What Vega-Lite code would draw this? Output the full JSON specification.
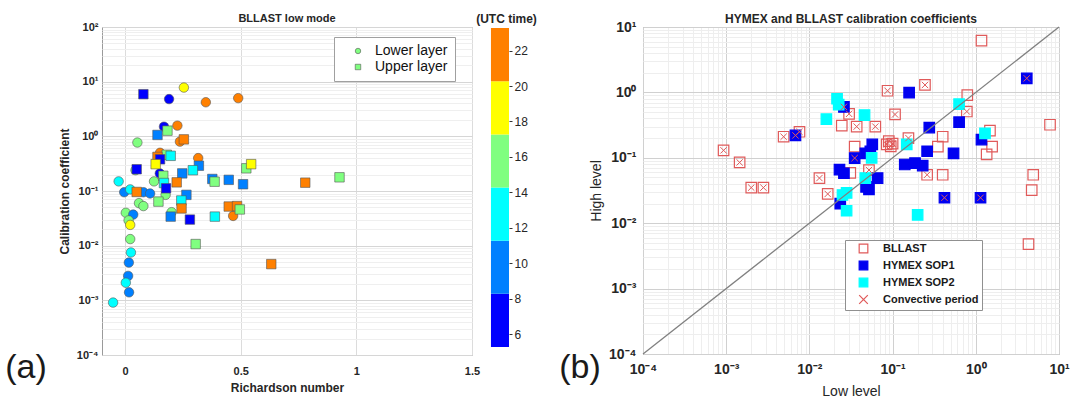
{
  "$schema": "https://vega.github.io/schema/vega-lite/v6.json",
  "background": "white",
  "padding": {"left": 4, "top": 11, "right": 5, "bottom": 3},
  "spacing": 21,
  "resolve": {
    "scale": {"shape": "independent", "color": "independent", "fill": "independent", "stroke": "independent", "x": "independent", "y": "independent"},
    "legend": {"shape": "independent", "color": "independent", "fill": "independent", "stroke": "independent"}
  },
  "config": {
    "font": "Liberation Sans",
    "view": {"stroke": "#9a9a9a"},
    "axis": {"domain": false, "ticks": false, "labelOverlap": false, "labelFlush": false, "labelColor": "#262626", "titleColor": "#262626", "labelFont": "Liberation Sans", "titleFont": "Liberation Sans"},
    "title": {"fontWeight": "bold", "color": "#262626", "font": "Liberation Sans", "frame": "group"}
  },
  "datasets": {
    "ri": [
      {"ri": 0.19, "cc": 4.8, "lay": "Lower layer", "utc": 7},
      {"ri": 0.254, "cc": 7.8, "lay": "Lower layer", "utc": 19},
      {"ri": 0.349, "cc": 4.2, "lay": "Lower layer", "utc": 22},
      {"ri": 0.489, "cc": 5.0, "lay": "Lower layer", "utc": 22},
      {"ri": 0.168, "cc": 1.5, "lay": "Lower layer", "utc": 7},
      {"ri": 0.226, "cc": 1.57, "lay": "Lower layer", "utc": 22},
      {"ri": 0.053, "cc": 0.77, "lay": "Lower layer", "utc": 16},
      {"ri": 0.237, "cc": 0.8, "lay": "Lower layer", "utc": 22},
      {"ri": 0.151, "cc": 0.5, "lay": "Lower layer", "utc": 22},
      {"ri": 0.316, "cc": 0.4, "lay": "Lower layer", "utc": 22},
      {"ri": 0.15, "cc": 0.21, "lay": "Lower layer", "utc": 7},
      {"ri": 0.125, "cc": 0.15, "lay": "Lower layer", "utc": 16},
      {"ri": 0.045, "cc": 0.24, "lay": "Lower layer", "utc": 16},
      {"ri": -0.028, "cc": 0.15, "lay": "Lower layer", "utc": 13},
      {"ri": -0.004, "cc": 0.095, "lay": "Lower layer", "utc": 10},
      {"ri": 0.022, "cc": 0.107, "lay": "Lower layer", "utc": 13},
      {"ri": 0.079, "cc": 0.095, "lay": "Lower layer", "utc": 10},
      {"ri": 0.108, "cc": 0.09, "lay": "Lower layer", "utc": 10},
      {"ri": 0.06, "cc": 0.06, "lay": "Lower layer", "utc": 16},
      {"ri": 0.079, "cc": 0.053, "lay": "Lower layer", "utc": 16},
      {"ri": 0.175, "cc": 0.085, "lay": "Lower layer", "utc": 16},
      {"ri": 0.201, "cc": 0.041, "lay": "Lower layer", "utc": 16},
      {"ri": 0.467, "cc": 0.035, "lay": "Lower layer", "utc": 22},
      {"ri": 0.003, "cc": 0.04, "lay": "Lower layer", "utc": 16},
      {"ri": 0.035, "cc": 0.037, "lay": "Lower layer", "utc": 10},
      {"ri": 0.015, "cc": 0.029, "lay": "Lower layer", "utc": 16},
      {"ri": 0.022, "cc": 0.024, "lay": "Lower layer", "utc": 19},
      {"ri": 0.022, "cc": 0.0132, "lay": "Lower layer", "utc": 16},
      {"ri": 0.025, "cc": 0.0075, "lay": "Lower layer", "utc": 13},
      {"ri": 0.016, "cc": 0.0049, "lay": "Lower layer", "utc": 10},
      {"ri": 0.013, "cc": 0.0028, "lay": "Lower layer", "utc": 10},
      {"ri": 0.003, "cc": 0.0021, "lay": "Lower layer", "utc": 13},
      {"ri": 0.017, "cc": 0.0014, "lay": "Lower layer", "utc": 10},
      {"ri": -0.052, "cc": 0.00091, "lay": "Lower layer", "utc": 13},
      {"ri": 0.079, "cc": 5.9, "lay": "Upper layer", "utc": 7},
      {"ri": 0.14, "cc": 1.06, "lay": "Upper layer", "utc": 10},
      {"ri": 0.183, "cc": 1.27, "lay": "Upper layer", "utc": 16},
      {"ri": 0.254, "cc": 0.88, "lay": "Upper layer", "utc": 22},
      {"ri": 0.18, "cc": 0.46, "lay": "Upper layer", "utc": 16},
      {"ri": 0.197, "cc": 0.44, "lay": "Upper layer", "utc": 13},
      {"ri": 0.14, "cc": 0.42, "lay": "Upper layer", "utc": 22},
      {"ri": 0.151, "cc": 0.38, "lay": "Upper layer", "utc": 7},
      {"ri": 0.132, "cc": 0.31, "lay": "Upper layer", "utc": 19},
      {"ri": 0.05, "cc": 0.25, "lay": "Upper layer", "utc": 7},
      {"ri": 0.319, "cc": 0.29, "lay": "Upper layer", "utc": 10},
      {"ri": 0.293, "cc": 0.24, "lay": "Upper layer", "utc": 13},
      {"ri": 0.247, "cc": 0.21, "lay": "Upper layer", "utc": 10},
      {"ri": 0.165, "cc": 0.19, "lay": "Upper layer", "utc": 16},
      {"ri": 0.168, "cc": 0.14, "lay": "Upper layer", "utc": 13},
      {"ri": 0.524, "cc": 0.26, "lay": "Upper layer", "utc": 16},
      {"ri": 0.545, "cc": 0.31, "lay": "Upper layer", "utc": 19},
      {"ri": 0.377, "cc": 0.166, "lay": "Upper layer", "utc": 10},
      {"ri": 0.448, "cc": 0.16, "lay": "Upper layer", "utc": 10},
      {"ri": 0.51, "cc": 0.133, "lay": "Upper layer", "utc": 10},
      {"ri": 0.387, "cc": 0.148, "lay": "Upper layer", "utc": 16},
      {"ri": 0.223, "cc": 0.144, "lay": "Upper layer", "utc": 22},
      {"ri": 0.779, "cc": 0.142, "lay": "Upper layer", "utc": 22},
      {"ri": 0.927, "cc": 0.178, "lay": "Upper layer", "utc": 16},
      {"ri": 0.05, "cc": 0.096, "lay": "Upper layer", "utc": 22},
      {"ri": 0.177, "cc": 0.112, "lay": "Upper layer", "utc": 7},
      {"ri": 0.265, "cc": 0.085, "lay": "Upper layer", "utc": 10},
      {"ri": 0.144, "cc": 0.064, "lay": "Upper layer", "utc": 16},
      {"ri": 0.243, "cc": 0.067, "lay": "Upper layer", "utc": 13},
      {"ri": 0.244, "cc": 0.048, "lay": "Upper layer", "utc": 22},
      {"ri": 0.197, "cc": 0.034, "lay": "Upper layer", "utc": 10},
      {"ri": 0.28, "cc": 0.03, "lay": "Upper layer", "utc": 7},
      {"ri": 0.388, "cc": 0.034, "lay": "Upper layer", "utc": 13},
      {"ri": 0.448, "cc": 0.052, "lay": "Upper layer", "utc": 22},
      {"ri": 0.484, "cc": 0.053, "lay": "Upper layer", "utc": 22},
      {"ri": 0.496, "cc": 0.046, "lay": "Upper layer", "utc": 16},
      {"ri": 0.305, "cc": 0.0107, "lay": "Upper layer", "utc": 16},
      {"ri": 0.632, "cc": 0.0046, "lay": "Upper layer", "utc": 22}
    ],
    "cbar": [
      {"utc": 5.27, "utc_end": 8.27},
      {"utc": 8.27, "utc_end": 11.27},
      {"utc": 11.27, "utc_end": 14.27},
      {"utc": 14.27, "utc_end": 17.27},
      {"utc": 17.27, "utc_end": 20.27},
      {"utc": 20.27, "utc_end": 23.27}
    ],
    "coef": [
      {"lo": 1.17, "hi": 6.2, "grp": "BLLAST"},
      {"lo": 0.79, "hi": 0.91, "grp": "BLLAST"},
      {"lo": 1.48, "hi": 0.26, "grp": "BLLAST"},
      {"lo": 7.8, "hi": 0.32, "grp": "BLLAST"},
      {"lo": 0.4, "hi": 0.21, "grp": "BLLAST"},
      {"lo": 0.35, "hi": 0.148, "grp": "BLLAST"},
      {"lo": 1.57, "hi": 0.148, "grp": "BLLAST"},
      {"lo": 1.35, "hi": 0.113, "grp": "BLLAST"},
      {"lo": 0.4, "hi": 0.055, "grp": "BLLAST"},
      {"lo": 4.9, "hi": 0.055, "grp": "BLLAST"},
      {"lo": 4.7, "hi": 0.032, "grp": "BLLAST"},
      {"lo": 4.3, "hi": 0.0048, "grp": "BLLAST"},
      {"lo": 0.0245, "hi": 0.31, "grp": "BLLAST"},
      {"lo": 0.035, "hi": 0.148, "grp": "BLLAST"},
      {"lo": 0.031, "hi": 0.059, "grp": "BLLAST"},
      {"lo": 0.00093, "hi": 0.13, "grp": "BLLAST"},
      {"lo": 0.00145, "hi": 0.085, "grp": "BLLAST"},
      {"lo": 0.002, "hi": 0.035, "grp": "BLLAST"},
      {"lo": 0.0028, "hi": 0.035, "grp": "BLLAST"},
      {"lo": 0.0049, "hi": 0.21, "grp": "BLLAST"},
      {"lo": 0.0076, "hi": 0.25, "grp": "BLLAST"},
      {"lo": 0.0132, "hi": 0.049, "grp": "BLLAST"},
      {"lo": 0.0166, "hi": 0.028, "grp": "BLLAST"},
      {"lo": 0.03, "hi": 0.47, "grp": "BLLAST"},
      {"lo": 0.037, "hi": 0.3, "grp": "BLLAST"},
      {"lo": 0.062, "hi": 0.3, "grp": "BLLAST"},
      {"lo": 0.087, "hi": 1.06, "grp": "BLLAST"},
      {"lo": 0.107, "hi": 0.46, "grp": "BLLAST"},
      {"lo": 0.245, "hi": 1.3, "grp": "BLLAST"},
      {"lo": 0.155, "hi": 0.2, "grp": "BLLAST"},
      {"lo": 0.09, "hi": 0.18, "grp": "BLLAST"},
      {"lo": 0.095, "hi": 0.15, "grp": "BLLAST"},
      {"lo": 0.1, "hi": 0.165, "grp": "BLLAST"},
      {"lo": 0.085, "hi": 0.16, "grp": "BLLAST"},
      {"lo": 0.052, "hi": 0.065, "grp": "BLLAST"},
      {"lo": 0.26, "hi": 0.055, "grp": "BLLAST"},
      {"lo": 0.78, "hi": 0.51, "grp": "BLLAST"},
      {"lo": 0.0068, "hi": 0.22, "grp": "HYMEX SOP1"},
      {"lo": 0.026, "hi": 0.6, "grp": "HYMEX SOP1"},
      {"lo": 0.035, "hi": 0.099, "grp": "HYMEX SOP1"},
      {"lo": 0.42, "hi": 0.0245, "grp": "HYMEX SOP1"},
      {"lo": 1.14, "hi": 0.0245, "grp": "HYMEX SOP1"},
      {"lo": 4.1, "hi": 1.64, "grp": "HYMEX SOP1"},
      {"lo": 0.158, "hi": 0.99, "grp": "HYMEX SOP1"},
      {"lo": 0.276, "hi": 0.29, "grp": "HYMEX SOP1"},
      {"lo": 0.63, "hi": 0.35, "grp": "HYMEX SOP1"},
      {"lo": 0.26, "hi": 0.126, "grp": "HYMEX SOP1"},
      {"lo": 0.54, "hi": 0.117, "grp": "HYMEX SOP1"},
      {"lo": 0.23, "hi": 0.076, "grp": "HYMEX SOP1"},
      {"lo": 1.17, "hi": 0.19, "grp": "HYMEX SOP1"},
      {"lo": 0.14, "hi": 0.079, "grp": "HYMEX SOP1"},
      {"lo": 0.186, "hi": 0.083, "grp": "HYMEX SOP1"},
      {"lo": 0.057, "hi": 0.16, "grp": "HYMEX SOP1"},
      {"lo": 0.054, "hi": 0.125, "grp": "HYMEX SOP1"},
      {"lo": 0.047, "hi": 0.117, "grp": "HYMEX SOP1"},
      {"lo": 0.023, "hi": 0.066, "grp": "HYMEX SOP1"},
      {"lo": 0.026, "hi": 0.058, "grp": "HYMEX SOP1"},
      {"lo": 0.066, "hi": 0.049, "grp": "HYMEX SOP1"},
      {"lo": 0.048, "hi": 0.036, "grp": "HYMEX SOP1"},
      {"lo": 0.052, "hi": 0.033, "grp": "HYMEX SOP1"},
      {"lo": 0.0235, "hi": 0.0199, "grp": "HYMEX SOP1"},
      {"lo": 0.0215, "hi": 0.8, "grp": "HYMEX SOP2"},
      {"lo": 0.0225, "hi": 0.65, "grp": "HYMEX SOP2"},
      {"lo": 0.016, "hi": 0.39, "grp": "HYMEX SOP2"},
      {"lo": 0.046, "hi": 0.45, "grp": "HYMEX SOP2"},
      {"lo": 0.63, "hi": 0.66, "grp": "HYMEX SOP2"},
      {"lo": 1.29, "hi": 0.237, "grp": "HYMEX SOP2"},
      {"lo": 0.148, "hi": 0.16, "grp": "HYMEX SOP2"},
      {"lo": 0.056, "hi": 0.1, "grp": "HYMEX SOP2"},
      {"lo": 0.047, "hi": 0.049, "grp": "HYMEX SOP2"},
      {"lo": 0.028, "hi": 0.029, "grp": "HYMEX SOP2"},
      {"lo": 0.025, "hi": 0.027, "grp": "HYMEX SOP2"},
      {"lo": 0.028, "hi": 0.0155, "grp": "HYMEX SOP2"},
      {"lo": 0.2, "hi": 0.0134, "grp": "HYMEX SOP2"}
    ],
    "conv": [
      {"lo": 0.00093, "hi": 0.13, "grp": "Convective period"},
      {"lo": 0.00145, "hi": 0.085, "grp": "Convective period"},
      {"lo": 0.002, "hi": 0.035, "grp": "Convective period"},
      {"lo": 0.0028, "hi": 0.035, "grp": "Convective period"},
      {"lo": 0.0049, "hi": 0.21, "grp": "Convective period"},
      {"lo": 0.0076, "hi": 0.25, "grp": "Convective period"},
      {"lo": 0.0132, "hi": 0.049, "grp": "Convective period"},
      {"lo": 0.0166, "hi": 0.028, "grp": "Convective period"},
      {"lo": 0.03, "hi": 0.47, "grp": "Convective period"},
      {"lo": 0.037, "hi": 0.3, "grp": "Convective period"},
      {"lo": 0.062, "hi": 0.3, "grp": "Convective period"},
      {"lo": 0.087, "hi": 1.06, "grp": "Convective period"},
      {"lo": 0.107, "hi": 0.46, "grp": "Convective period"},
      {"lo": 0.245, "hi": 1.3, "grp": "Convective period"},
      {"lo": 0.155, "hi": 0.2, "grp": "Convective period"},
      {"lo": 0.09, "hi": 0.18, "grp": "Convective period"},
      {"lo": 0.095, "hi": 0.15, "grp": "Convective period"},
      {"lo": 0.1, "hi": 0.165, "grp": "Convective period"},
      {"lo": 0.085, "hi": 0.16, "grp": "Convective period"},
      {"lo": 0.052, "hi": 0.065, "grp": "Convective period"},
      {"lo": 0.26, "hi": 0.055, "grp": "Convective period"},
      {"lo": 0.78, "hi": 0.51, "grp": "Convective period"},
      {"lo": 0.0068, "hi": 0.22, "grp": "Convective period"},
      {"lo": 0.026, "hi": 0.6, "grp": "Convective period"},
      {"lo": 0.035, "hi": 0.099, "grp": "Convective period"},
      {"lo": 0.42, "hi": 0.0245, "grp": "Convective period"},
      {"lo": 1.14, "hi": 0.0245, "grp": "Convective period"},
      {"lo": 4.1, "hi": 1.64, "grp": "Convective period"}
    ],
    "diag": [
      {"lo": 0.0001, "hi": 0.0001},
      {"lo": 10, "hi": 10}
    ]
  },
  "hconcat": [
    {
      "width": 370,
      "height": 328,
      "title": {"text": "BLLAST low mode", "fontSize": 11, "offset": -12},
      "layer": [
        {
          "data": {"name": "ri"},
          "mark": {"type": "point", "filled": true, "opacity": 1, "size": 90, "stroke": "#555555", "strokeWidth": 0.6},
          "encoding": {
            "x": {
              "field": "ri", "type": "quantitative",
              "scale": {"domain": [-0.1, 1.5], "nice": false, "zero": false},
              "axis": {"title": "Richardson number", "values": [0, 0.5, 1, 1.5], "labelExpr": "format(datum.value, '~g')", "labelFontSize": 11, "labelFontWeight": "bold", "labelPadding": 10, "titleFontSize": 12, "titleFontWeight": "bold", "titlePadding": 6, "gridColor": "#dcdcdc"}
            },
            "y": {
              "field": "cc", "type": "quantitative",
              "scale": {"type": "log", "domain": [0.0001, 100], "nice": false},
              "axis": {
                "title": "Calibration coefficient",
                "values": [0.0001,0.0002,0.0003,0.0004,0.0005,0.0006,0.0007,0.0008,0.0009,0.001,0.002,0.003,0.004,0.005,0.006,0.007,0.008,0.009,0.01,0.02,0.03,0.04,0.05,0.06,0.07,0.08,0.09,0.1,0.2,0.3,0.4,0.5,0.6,0.7,0.8,0.9,1,2,3,4,5,6,7,8,9,10,20,30,40,50,60,70,80,90,100],
                "labelExpr": "abs(log(datum.value)/LN10 - round(log(datum.value)/LN10)) < 0.001 ? ['10⁻⁴','10⁻³','10⁻²','10⁻¹','10⁰','10¹','10²'][round(log(datum.value)/LN10)+4] : ''",
                "gridColor": {"condition": {"test": "abs(log(datum.value)/LN10 - round(log(datum.value)/LN10)) < 0.001", "value": "#d6d6d6"}, "value": "#efefef"},
                "labelFontSize": 11, "labelFontWeight": "bold", "labelPadding": 4,
                "titleFontSize": 12, "titleFontWeight": "bold", "titlePadding": 5
              }
            },
            "shape": {
              "field": "lay", "type": "nominal",
              "scale": {"domain": ["Lower layer", "Upper layer"], "range": ["circle", "square"]},
              "legend": {"orient": "none", "legendX": 232, "legendY": 10, "title": null, "labelFontSize": 14, "labelColor": "#111111", "symbolSize": 30, "symbolFillColor": "#80ff80", "symbolStrokeColor": "#555555", "symbolStrokeWidth": 0.6, "strokeColor": "#a0a0a0", "fillColor": "white", "padding": 7, "rowPadding": 2, "labelOffset": 10, "symbolOffset": 10}
            },
            "color": {
              "field": "utc", "type": "quantitative",
              "scale": {"type": "threshold", "domain": [8.27, 11.27, 14.27, 17.27, 20.27], "range": ["#0000ff", "#0080ff", "#00ffff", "#80ff80", "#ffff00", "#ff8000"]},
              "legend": null
            }
          }
        },
        {
          "layer": [
            {
              "data": {"name": "cbar"},
              "mark": {"type": "rect", "clip": false},
              "encoding": {
                "x": {"datum": 1.582, "type": "quantitative", "scale": {"domain": [-0.1, 1.5], "nice": false, "zero": false}},
                "x2": {"datum": 1.66},
                "y": {
                  "field": "utc", "type": "quantitative",
                  "scale": {"domain": [4.82, 23.33], "nice": false, "zero": false},
                  "axis": {"orient": "right", "offset": 37, "values": [6, 8, 10, 12, 14, 16, 18, 20, 22], "grid": false, "domain": false, "ticks": true, "tickSize": 3, "tickColor": "#333333", "labelFontSize": 12, "labelPadding": 2, "title": "(UTC time)", "titleAngle": 0, "titleX": -3, "titleY": -5, "titleAlign": "center", "titleBaseline": "alphabetic", "titleFontSize": 12, "titleFontWeight": "bold"}
                },
                "y2": {"field": "utc_end"},
                "color": {
                  "field": "utc", "type": "quantitative",
                  "scale": {"type": "threshold", "domain": [8.27, 11.27, 14.27, 17.27, 20.27], "range": ["#0000ff", "#0080ff", "#00ffff", "#80ff80", "#ffff00", "#ff8000"]},
                  "legend": null
                }
              }
            },
            {
              "data": {"values": [{"panel": "(a)"}]},
              "mark": {"type": "text", "clip": false, "fontSize": 34, "color": "#1a1a1a", "font": "Liberation Sans"},
              "encoding": {
                "x": {"datum": -0.4287, "type": "quantitative", "scale": {"domain": [-0.1, 1.5], "nice": false, "zero": false}},
                "y": {"datum": 4.09, "type": "quantitative", "scale": {"domain": [4.82, 23.33], "nice": false, "zero": false}},
                "text": {"field": "panel"}
              }
            }
          ]
        }
      ],
      "resolve": {"scale": {"y": "independent"}, "axis": {"y": "independent"}}
    },
    {
      "width": 416,
      "height": 327,
      "title": {"text": "HYMEX and BLLAST calibration coefficients", "fontSize": 12, "offset": -6},
      "layer": [
        {
          "data": {"name": "coef"},
          "mark": {"type": "point", "opacity": 1, "size": 110, "strokeWidth": 1.2},
          "encoding": {
            "x": {
              "field": "lo", "type": "quantitative",
              "scale": {"type": "log", "domain": [0.0001, 10], "nice": false},
              "axis": {
                "title": "Low level",
                "values": [0.0001,0.0002,0.0003,0.0004,0.0005,0.0006,0.0007,0.0008,0.0009,0.001,0.002,0.003,0.004,0.005,0.006,0.007,0.008,0.009,0.01,0.02,0.03,0.04,0.05,0.06,0.07,0.08,0.09,0.1,0.2,0.3,0.4,0.5,0.6,0.7,0.8,0.9,1,2,3,4,5,6,7,8,9,10],
                "labelExpr": "abs(log(datum.value)/LN10 - round(log(datum.value)/LN10)) < 0.001 ? ['10⁻⁴','10⁻³','10⁻²','10⁻¹','10⁰','10¹','10²'][round(log(datum.value)/LN10)+4] : ''",
                "gridColor": {"condition": {"test": "abs(log(datum.value)/LN10 - round(log(datum.value)/LN10)) < 0.001", "value": "#d0d0d0"}, "value": "#eeeeee"},
                "labelFontSize": 14, "labelFontWeight": "bold", "labelPadding": 8,
                "titleFontSize": 14, "titleFontWeight": "normal", "titlePadding": 8
              }
            },
            "y": {
              "field": "hi", "type": "quantitative",
              "scale": {"type": "log", "domain": [0.0001, 10], "nice": false},
              "axis": {
                "title": "High level",
                "values": [0.0001,0.0002,0.0003,0.0004,0.0005,0.0006,0.0007,0.0008,0.0009,0.001,0.002,0.003,0.004,0.005,0.006,0.007,0.008,0.009,0.01,0.02,0.03,0.04,0.05,0.06,0.07,0.08,0.09,0.1,0.2,0.3,0.4,0.5,0.6,0.7,0.8,0.9,1,2,3,4,5,6,7,8,9,10],
                "labelExpr": "abs(log(datum.value)/LN10 - round(log(datum.value)/LN10)) < 0.001 ? ['10⁻⁴','10⁻³','10⁻²','10⁻¹','10⁰','10¹','10²'][round(log(datum.value)/LN10)+4] : ''",
                "gridColor": {"condition": {"test": "abs(log(datum.value)/LN10 - round(log(datum.value)/LN10)) < 0.001", "value": "#d0d0d0"}, "value": "#eeeeee"},
                "labelFontSize": 14, "labelFontWeight": "bold", "labelPadding": 7,
                "titleFontSize": 14, "titleFontWeight": "normal", "titlePadding": 5
              }
            },
            "fill": {"field": "grp", "type": "nominal", "scale": {"domain": ["BLLAST", "HYMEX SOP1", "HYMEX SOP2", "Convective period"], "range": ["transparent", "#0000f0", "#00ffff", "transparent"]}, "legend": {"orient": "none", "legendX": 202, "legendY": 213, "title": null, "labelFontSize": 11, "labelFontWeight": "bold", "labelColor": "#1a1a1a", "symbolSize": 75, "symbolStrokeWidth": 1.2, "strokeColor": "#909090", "fillColor": "white", "padding": 3, "rowPadding": 2, "labelOffset": 14, "symbolOffset": 10}},
            "stroke": {"field": "grp", "type": "nominal", "scale": {"domain": ["BLLAST", "HYMEX SOP1", "HYMEX SOP2", "Convective period"], "range": ["#e05a5a", "#0000f0", "#00ffff", "#e05a5a"]}, "legend": {"orient": "none", "legendX": 202, "legendY": 213, "title": null, "labelFontSize": 11, "labelFontWeight": "bold", "labelColor": "#1a1a1a", "symbolSize": 75, "symbolStrokeWidth": 1.2, "strokeColor": "#909090", "fillColor": "white", "padding": 3, "rowPadding": 2, "labelOffset": 14, "symbolOffset": 10}},
            "shape": {"field": "grp", "type": "nominal", "scale": {"domain": ["BLLAST", "HYMEX SOP1", "HYMEX SOP2", "Convective period"], "range": ["square", "square", "square", "M-1,-1L1,1M-1,1L1,-1"]}, "legend": {"orient": "none", "legendX": 202, "legendY": 213, "title": null, "labelFontSize": 11, "labelFontWeight": "bold", "labelColor": "#1a1a1a", "symbolSize": 75, "symbolStrokeWidth": 1.2, "strokeColor": "#909090", "fillColor": "white", "padding": 3, "rowPadding": 2, "labelOffset": 14, "symbolOffset": 10}}
          }
        },
        {
          "data": {"name": "conv"},
          "mark": {"type": "point", "opacity": 1, "size": 40, "strokeWidth": 1},
          "encoding": {
            "x": {"field": "lo", "type": "quantitative", "scale": {"type": "log", "domain": [0.0001, 10], "nice": false}},
            "y": {"field": "hi", "type": "quantitative", "scale": {"type": "log", "domain": [0.0001, 10], "nice": false}},
            "fill": {"field": "grp", "type": "nominal"},
            "stroke": {"field": "grp", "type": "nominal"},
            "shape": {"field": "grp", "type": "nominal"}
          }
        },
        {
          "data": {"name": "diag"},
          "mark": {"type": "line", "color": "#808080", "strokeWidth": 1.3},
          "encoding": {
            "x": {"field": "lo", "type": "quantitative", "scale": {"type": "log", "domain": [0.0001, 10], "nice": false}},
            "y": {"field": "hi", "type": "quantitative", "scale": {"type": "log", "domain": [0.0001, 10], "nice": false}}
          }
        },
        {
          "data": {"values": [{"panel": "(b)"}]},
          "mark": {"type": "text", "clip": false, "fontSize": 34, "color": "#1a1a1a", "font": "Liberation Sans"},
          "encoding": {
            "x": {"datum": 0.0000175, "type": "quantitative", "scale": {"type": "log", "domain": [0.0001, 10], "nice": false}},
            "y": {"datum": 0.000061, "type": "quantitative", "scale": {"type": "log", "domain": [0.0001, 10], "nice": false}},
            "text": {"field": "panel"}
          }
        }
      ]
    }
  ]
}
